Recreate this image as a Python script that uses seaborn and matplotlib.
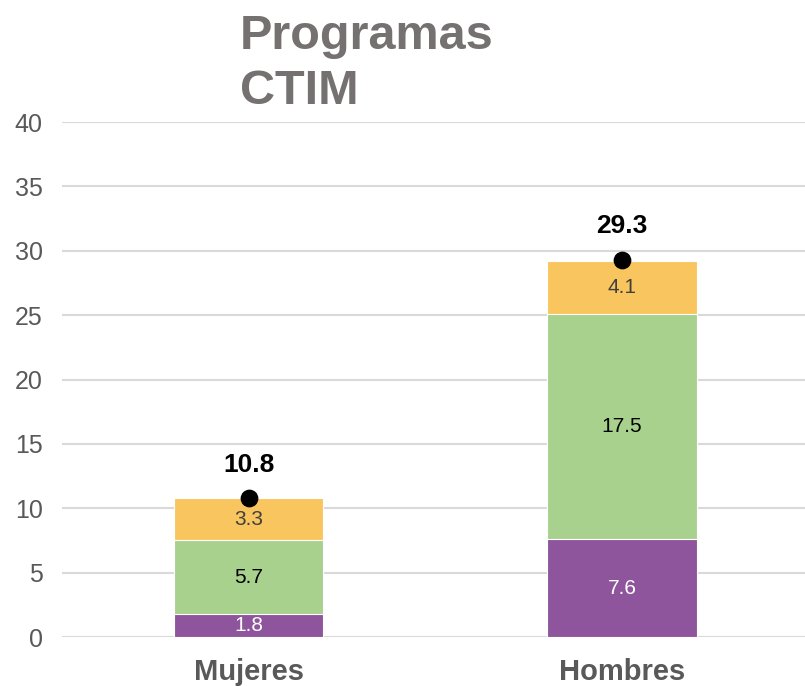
import numpy as np
import pandas as pd
import matplotlib
matplotlib.use('Agg')
import matplotlib.pyplot as plt
import seaborn as sns

# datos del grafico
categorias = ['Mujeres', 'Hombres']
serie_1 = [1.8, 7.6]    # morado
serie_2 = [5.7, 17.5]   # verde
serie_3 = [3.3, 4.1]    # amarillo
totales = [10.8, 29.3]

sns.set_style('white')
plt.rcParams['font.family'] = ['Liberation Sans', 'DejaVu Sans']

morado = '#8F559C'
verde = '#A9D18E'
amarillo = '#F9C55F'

df = pd.DataFrame({'cat': categorias, 's1': serie_1, 's2': serie_2, 's3': serie_3})
df['c12'] = df['s1'] + df['s2']
df['c123'] = df['c12'] + df['s3']

fig = plt.figure(figsize=(8.05, 6.86), dpi=100)
ax = fig.add_axes([0.077, 0.0714, 0.923, 0.7507])

# barras apiladas: se dibuja de arriba hacia abajo
sns.barplot(data=df, x='cat', y='c123', color=amarillo, saturation=1, width=0.4,
            edgecolor='white', linewidth=0.8, ax=ax, zorder=3)
sns.barplot(data=df, x='cat', y='c12', color=verde, saturation=1, width=0.4,
            edgecolor='white', linewidth=0.8, ax=ax, zorder=3)
sns.barplot(data=df, x='cat', y='s1', color=morado, saturation=1, width=0.4,
            edgecolor='white', linewidth=0.8, ax=ax, zorder=3)

# puntos del total
pos = np.arange(len(categorias))
sns.scatterplot(x=pos, y=totales, color='black', s=140, ax=ax, zorder=5,
                edgecolor='black', legend=False)

# etiquetas de cada segmento
for i in range(len(categorias)):
    ax.text(i, serie_1[i] / 2, f'{serie_1[i]}', ha='center', va='center',
            fontsize=15, color='white', zorder=6)
    ax.text(i, serie_1[i] + serie_2[i] / 2, f'{serie_2[i]}', ha='center', va='center',
            fontsize=15, color='black', zorder=6)
    ax.text(i, serie_1[i] + serie_2[i] + serie_3[i] / 2, f'{serie_3[i]}', ha='center',
            va='center', fontsize=15, color='#404040', zorder=6)
    ax.text(i, totales[i] + 2.6, f'{totales[i]}', ha='center', va='center',
            fontsize=19, fontweight='bold', color='black', zorder=6)

ax.set_ylim(0, 40)
ax.set_xlim(-0.5, 1.49)
ax.set_yticks(range(0, 41, 5))
ax.yaxis.grid(True, color='#D9D9D9', linewidth=1.5, zorder=0)
ax.set_axisbelow(True)
for s in ax.spines.values():
    s.set_visible(False)
ax.set_xlabel('')
ax.set_ylabel('')
ax.tick_params(axis='y', length=0, labelsize=18, labelcolor='#595959', pad=14)
ax.tick_params(axis='x', length=0, labelsize=21, labelcolor='#595959', pad=15)
for lbl in ax.get_xticklabels():
    lbl.set_fontweight('bold')

fig.text(240 / 805, 1 - 14 / 686, 'Programas\nCTIM', ha='left', va='top',
         fontsize=35, fontweight='bold', color='#767171', linespacing=1.3)

fig.savefig('out.png', dpi=100)
